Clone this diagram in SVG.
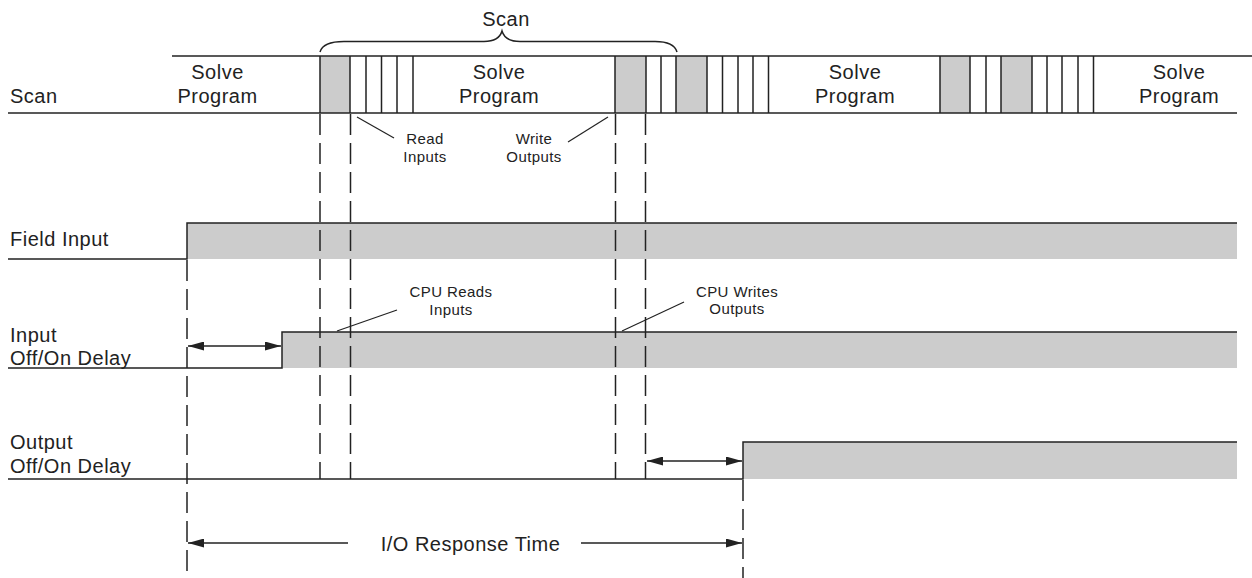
<svg xmlns="http://www.w3.org/2000/svg" width="1252" height="578" viewBox="0 0 1252 578">
<style>
  .t { font-family: "Liberation Sans", Arial, sans-serif; font-size: 20px; letter-spacing: 0.5px; fill: #222; }
  .s { font-family: "Liberation Sans", Arial, sans-serif; font-size: 15px; letter-spacing: 0.4px; fill: #222; }
  .m { text-anchor: middle; }
  .ln { stroke: #222; stroke-width: 1.5; fill: none; }
  .dash { stroke: #222; stroke-width: 1.5; fill: none; stroke-dasharray: 21 8; }
  .g { fill: #cccccc; stroke: none; }
  .ptr { stroke: #222; stroke-width: 1.2; fill: none; }
</style>
<defs>
  <marker id="arr" markerUnits="userSpaceOnUse" markerWidth="16" markerHeight="9" refX="16" refY="4.5" orient="auto-start-reverse" viewBox="0 0 16 9">
    <path d="M0,0 L16,4.5 L0,9 Z" fill="#222"/>
  </marker>
</defs>
<rect width="1252" height="578" fill="#ffffff"/>

<g id="scan-brace">
  <path class="ln" stroke-width="1.3" d="M320,52 C322,45 329,41.5 344,41.5 L484,41.5 C495,41.5 500,38 502,31 C504,38 509,41.5 520,41.5 L655,41.5 C668,41.5 675,45 677,52"/>
  <text class="t m" x="506" y="26">Scan</text>
</g>

<g id="scan-bar">
  <rect class="g" x="320" y="56" width="30" height="57"/>
  <rect class="g" x="615" y="56" width="31" height="57"/>
  <rect class="g" x="676" y="56" width="31" height="57"/>
  <rect class="g" x="940" y="56" width="30" height="57"/>
  <rect class="g" x="1001" y="56" width="31" height="57"/>
  <line class="ln" x1="172" y1="56" x2="1252" y2="56"/>
  <line class="ln" x1="8" y1="113" x2="1237" y2="113"/>
  <path class="ln" d="M320,56V113 M350,56V113 M366,56V113 M381.5,56V113 M397,56V113 M413,56V113
                      M615,56V113 M646,56V113 M661,56V113 M676,56V113 M707,56V113 M722.5,56V113 M738,56V113 M753,56V113 M768.5,56V113
                      M940,56V113 M970,56V113 M986,56V113 M1001,56V113 M1032,56V113 M1047,56V113 M1062,56V113 M1078,56V113 M1093.5,56V113"/>
  <text class="t" x="10" y="103">Scan</text>
  <text class="t m" x="217.5" y="79">Solve</text>
  <text class="t m" x="217.5" y="103">Program</text>
  <text class="t m" x="499" y="79">Solve</text>
  <text class="t m" x="499" y="103">Program</text>
  <text class="t m" x="855" y="79">Solve</text>
  <text class="t m" x="855" y="103">Program</text>
  <text class="t m" x="1179" y="79">Solve</text>
  <text class="t m" x="1179" y="103">Program</text>
</g>

<g id="field-input">
  <rect class="g" x="187" y="223" width="1050" height="36"/>
  <path class="ln" d="M8,259 H187 V223 H1237"/>
  <text class="t" x="10" y="246">Field Input</text>
</g>

<g id="input-delay">
  <rect class="g" x="282" y="332" width="955" height="36"/>
  <path class="ln" d="M8,368 H282 V332 H1237"/>
  <text class="t" x="10" y="342">Input</text>
  <text class="t" x="10" y="365">Off/On Delay</text>
</g>

<g id="output-delay">
  <rect class="g" x="743" y="442" width="494" height="37"/>
  <path class="ln" d="M8,479 H743 V442 H1237"/>
  <text class="t" x="10" y="449">Output</text>
  <text class="t" x="10" y="473">Off/On Delay</text>
</g>

<g id="connectors">
  <line class="dash" x1="320" y1="114" x2="320" y2="479"/>
  <line class="dash" x1="350.5" y1="114" x2="350.5" y2="479"/>
  <line class="dash" x1="615.5" y1="114" x2="615.5" y2="479"/>
  <line class="dash" x1="645.5" y1="114" x2="645.5" y2="479"/>
  <line class="dash" x1="187" y1="260" x2="187" y2="578"/>
  <line class="dash" x1="743" y1="480" x2="743" y2="578"/>

  <line class="ln" x1="188" y1="346" x2="281" y2="346" marker-start="url(#arr)" marker-end="url(#arr)"/>
  <line class="ln" x1="647" y1="461" x2="742" y2="461" marker-start="url(#arr)" marker-end="url(#arr)"/>
  <line class="ln" x1="348" y1="543" x2="188" y2="543" marker-end="url(#arr)"/>
  <line class="ln" x1="581" y1="543" x2="742" y2="543" marker-end="url(#arr)"/>

  <line class="ptr" x1="357" y1="117" x2="394" y2="138"/>
  <line class="ptr" x1="608" y1="117" x2="568" y2="142"/>
  <line class="ptr" x1="337" y1="331" x2="397" y2="310"/>
  <line class="ptr" x1="622" y1="331" x2="684" y2="302"/>
</g>

<g id="annotations">
  <text class="s m" x="425" y="144">Read</text>
  <text class="s m" x="425" y="162">Inputs</text>
  <text class="s m" x="534" y="144">Write</text>
  <text class="s m" x="534" y="162">Outputs</text>
  <text class="s m" x="451" y="297">CPU Reads</text>
  <text class="s m" x="451" y="315">Inputs</text>
  <text class="s m" x="737" y="297">CPU Writes</text>
  <text class="s m" x="737" y="314">Outputs</text>
  <text class="t m" x="470.5" y="551">I/O Response Time</text>
</g>
</svg>
